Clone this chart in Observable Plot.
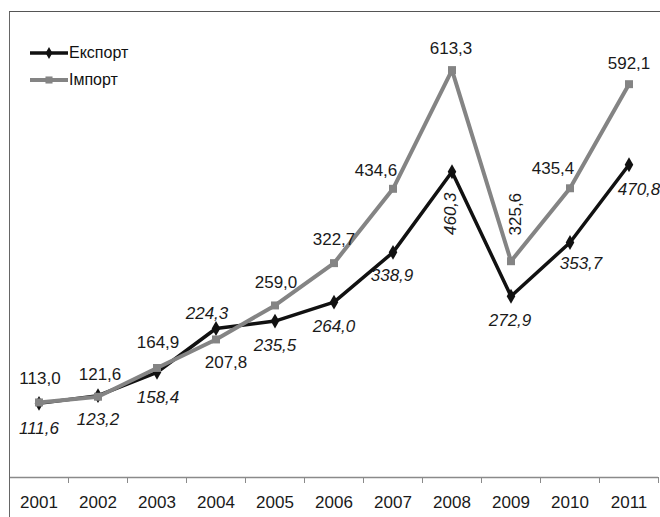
<!DOCTYPE html>
<html>
<head>
<meta charset="utf-8">
<script src="https://cdn.jsdelivr.net/npm/d3@7"></script>
<script src="https://cdn.jsdelivr.net/npm/@observablehq/plot@0.6"></script>
<style>
  html, body { margin: 0; padding: 0; background: #fff; }
  #wrap { position: relative; width: 660px; height: 517px; overflow: hidden; font-family: "Liberation Sans", Arial, sans-serif; }
  #border { position: absolute; left: 9px; top: 11px; width: 700px; height: 600px; border-left: 1.5px solid #666; border-top: 1.5px solid #555; pointer-events: none; }
  #legend { position: absolute; left: 30px; top: 39px; font-size: 16px; color: #111; }
  #legend .item { display: flex; align-items: center; height: 27px; }
  #legend svg { display: block; margin-right: 1px; }
  #chart { position: absolute; left: 0; top: 0; }
</style>
</head>
<body>
<div id="wrap">
  <div id="chart"></div>
  <div id="border"></div>
  <div id="legend"></div>
</div>
<script>
// ---- data ----
const years = [2001, 2002, 2003, 2004, 2005, 2006, 2007, 2008, 2009, 2010, 2011];
const exportValues = [111.6, 123.2, 158.4, 224.3, 235.5, 264.0, 338.9, 460.3, 272.9, 353.7, 470.8];
const importValues = [113.0, 121.6, 164.9, 207.8, 259.0, 322.7, 434.6, 613.3, 325.6, 435.4, 592.1];
const seriesNames = ["Експорт", "Імпорт"];

// ---- label placement (style) ----
const exportLabelOffsets = [[0,25],[0,24],[1,25],[-9,-15],[0,24],[0,24],[-1,23],[-1,42,-90],[-1,24],[11,21],[10,25]];
const importLabelOffsets = [[1,-24],[2,-22],[1,-25],[10,23],[1,-23],[0,-24],[-17,-18],[-1,-22],[5,-47,-90],[-17,-20],[0,-21]];

const exportColor = "#111111";
const importColor = "#848484";

const fmt = v => v.toFixed(1).replace(".", ",");
const exportRows = years.map((y, i) => ({year: y, value: exportValues[i]}));
const importRows = years.map((y, i) => ({year: y, value: importValues[i]}));
const boundaries = years.map(y => y + 0.5);

function labelMarks(rows, offsets, italic) {
  return rows.map((r, i) => Plot.text([r], {
    x: "year", y: "value", text: d => fmt(d.value),
    dx: offsets[i][0], dy: offsets[i][1], rotate: offsets[i][2] || 0,
    fontSize: 17, fill: "#1a1a1a", fontStyle: italic ? "italic" : "normal"
  }));
}

const chart = Plot.plot({
  width: 660,
  height: 517,
  marginTop: 12,
  marginBottom: 40,
  marginLeft: 9,
  marginRight: 2,
  style: {fontFamily: "'Liberation Sans', Arial, sans-serif", background: "transparent"},
  x: {domain: [years[0] - 0.5, years[years.length - 1] + 0.5], axis: null},
  y: {domain: [0, 700], axis: null},
  marks: [
    Plot.ruleY([0], {stroke: "#8a8a8a", strokeWidth: 1.5}),
    Plot.axisX({ticks: boundaries, tickSize: 6, tickFormat: () => "", label: null, stroke: "#8a8a8a"}),
    Plot.axisX({ticks: years, tickSize: 0, tickPadding: 18, tickFormat: d => String(d), label: null, fontSize: 17, fill: "#1a1a1a"}),
    Plot.line(exportRows, {x: "year", y: "value", stroke: exportColor, strokeWidth: 3.5}),
    Plot.dot(exportRows, {x: "year", y: "value", symbol: "diamond", r: 4.5, fill: exportColor}),
    Plot.line(importRows, {x: "year", y: "value", stroke: importColor, strokeWidth: 4}),
    Plot.dot(importRows, {x: "year", y: "value", symbol: "square", r: 4.5, fill: importColor}),
    ...labelMarks(exportRows, exportLabelOffsets, true),
    ...labelMarks(importRows, importLabelOffsets, false)
  ]
});
document.getElementById("chart").appendChild(chart);

// ---- legend ----
const legend = d3.select("#legend");
const legendItems = [
  {name: seriesNames[0], color: exportColor, symbol: d3.symbolDiamond, size: 40, width: 3.5},
  {name: seriesNames[1], color: importColor, symbol: d3.symbolSquare, size: 50, width: 4}
];
legendItems.forEach(it => {
  const row = legend.append("div").attr("class", "item");
  const s = row.append("svg").attr("width", 38).attr("height", 14);
  s.append("line").attr("x1", 0).attr("x2", 38).attr("y1", 7).attr("y2", 7)
    .attr("stroke", it.color).attr("stroke-width", it.width);
  s.append("path").attr("d", d3.symbol(it.symbol, it.size)()).attr("transform", "translate(19,7)")
    .attr("fill", it.color);
  row.append("span").text(it.name);
});
</script>
</body>
</html>
